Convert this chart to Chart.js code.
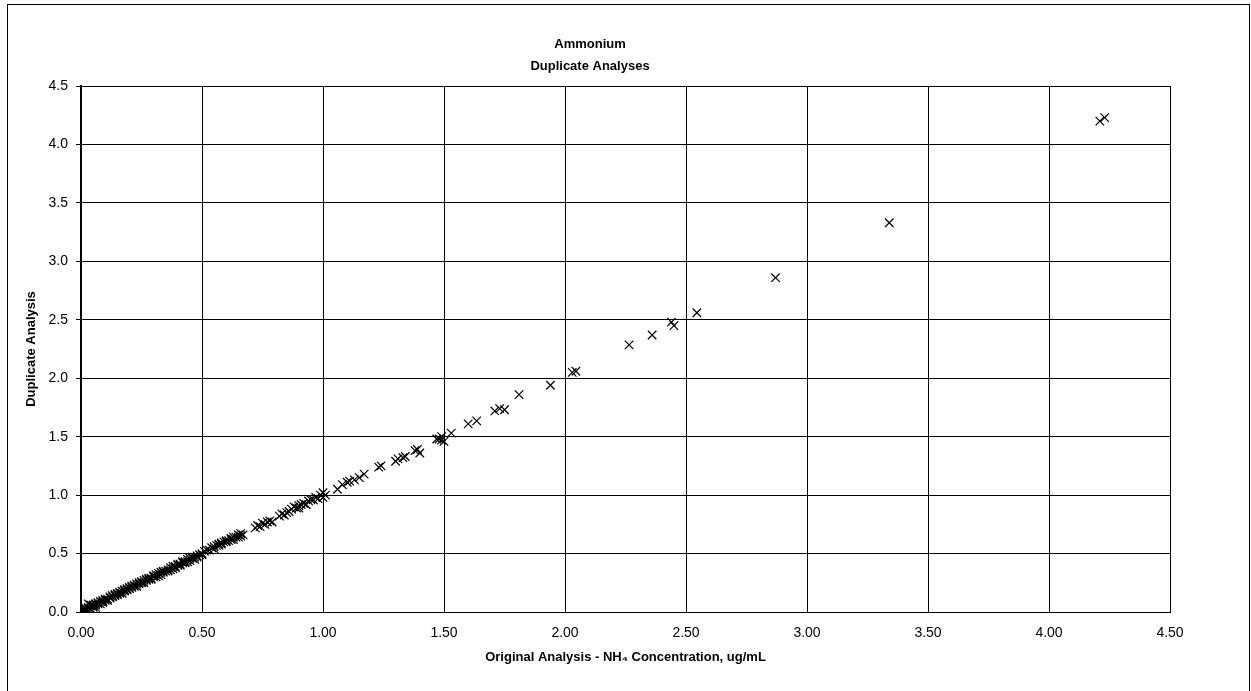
<!DOCTYPE html>
<html>
<head>
<meta charset="utf-8">
<title>Ammonium Duplicate Analyses</title>
<script src="https://cdn.jsdelivr.net/npm/chart.js@4.4.1/dist/chart.umd.min.js"></script>
<style>
  html, body { margin: 0; padding: 0; background: #fff; }
  #wrap { width: 1251px; height: 691px; }
</style>
</head>
<body>
<div id="wrap"><canvas id="dupChart" width="1251" height="691"></canvas></div>
<script>
// Chart text
const titleLines = ['Ammonium', 'Duplicate Analyses'];
const xTitle = 'Original Analysis - NH\u2084 Concentration, ug/mL';
const yTitle = 'Duplicate Analysis';

// Axis ranges (tick labels every 0.5)
const xRange = [0, 4.5];
const yRange = [0, 4.5];
const tickStep = 0.5;

// Original analysis values (ug/mL)
const originalNH4 = [
  0.00, 0.00, 0.01, 0.01, 0.01, 0.02, 0.02, 0.02, 0.03, 0.03, 0.04, 0.04, 0.05, 0.05, 0.05,
  0.06, 0.06, 0.07, 0.07, 0.08, 0.08, 0.09, 0.09, 0.10, 0.10,
  0.11, 0.12, 0.12, 0.13, 0.14, 0.14, 0.15, 0.16, 0.16, 0.17, 0.18, 0.18, 0.19, 0.20, 0.20,
  0.21, 0.22, 0.22, 0.23, 0.24, 0.25, 0.25, 0.26, 0.27, 0.28, 0.28, 0.29, 0.30, 0.31, 0.32,
  0.32, 0.33, 0.34, 0.35, 0.36, 0.37, 0.38, 0.39, 0.40, 0.40, 0.41, 0.42, 0.43, 0.44, 0.45,
  0.45, 0.46, 0.47, 0.48, 0.49, 0.50,
  0.03, 0.06, 0.09, 0.11, 0.13, 0.15, 0.17, 0.19, 0.21, 0.23, 0.24, 0.26, 0.27, 0.29, 0.30,
  0.31, 0.33, 0.34, 0.36, 0.37, 0.38, 0.39, 0.41, 0.42, 0.43, 0.44, 0.46, 0.47, 0.48, 0.50,
  0.52, 0.53, 0.54, 0.55, 0.55, 0.56, 0.57, 0.58, 0.58, 0.59, 0.60, 0.61, 0.62, 0.62, 0.63,
  0.64, 0.65, 0.66, 0.66, 0.67, 0.51, 0.57, 0.60, 0.63, 0.65,
  0.72, 0.73, 0.74, 0.75, 0.76, 0.77, 0.78, 0.79,
  0.82, 0.83, 0.84, 0.85, 0.86,
  0.87, 0.88, 0.89, 0.90, 0.90, 0.91, 0.92, 0.93, 0.94, 0.95, 0.96, 0.97, 0.98, 0.99, 1.00, 1.00,
  1.01, 1.06, 1.10, 1.11, 1.15, 1.17, 1.24, 1.30, 1.31, 1.33, 1.34, 1.39, 1.40, 1.47, 1.48,
  1.49, 1.50, 1.53, 1.23, 1.38, 1.49, 1.08, 1.13,
  1.60, 1.635, 1.71, 1.73, 1.75, 1.81, 1.94, 2.03, 2.045, 2.265, 2.36, 2.44, 2.45, 2.545,
  2.87, 3.34, 4.21, 4.23
];

// Duplicate analysis values (ug/mL), same order
const duplicateNH4 = [
  0.00, 0.01, 0.01, 0.02, 0.00, 0.02, 0.03, 0.01, 0.03, 0.04, 0.06, 0.03, 0.05, 0.04, 0.06,
  0.06, 0.07, 0.07, 0.08, 0.09, 0.07, 0.09, 0.10, 0.10, 0.11,
  0.11, 0.12, 0.13, 0.13, 0.14, 0.15, 0.15, 0.16, 0.17, 0.18, 0.18, 0.19, 0.19, 0.21, 0.20,
  0.22, 0.22, 0.23, 0.24, 0.24, 0.25, 0.26, 0.27, 0.27, 0.28, 0.29, 0.29, 0.30, 0.32, 0.31,
  0.33, 0.34, 0.34, 0.35, 0.35, 0.38, 0.37, 0.39, 0.40, 0.41, 0.41, 0.42, 0.43, 0.45, 0.44,
  0.46, 0.46, 0.47, 0.48, 0.49, 0.49,
  0.07, 0.04, 0.08, 0.10, 0.14, 0.16, 0.16, 0.20, 0.21, 0.22, 0.25, 0.25, 0.28, 0.28, 0.31,
  0.30, 0.32, 0.35, 0.36, 0.36, 0.39, 0.38, 0.40, 0.43, 0.42, 0.43, 0.47, 0.45, 0.47, 0.50,
  0.53, 0.53, 0.55, 0.54, 0.56, 0.57, 0.57, 0.59, 0.58, 0.60, 0.60, 0.61, 0.62, 0.63, 0.62,
  0.64, 0.66, 0.65, 0.67, 0.66, 0.52, 0.58, 0.61, 0.64, 0.64,
  0.72, 0.74, 0.73, 0.76, 0.75, 0.77, 0.78, 0.77,
  0.82, 0.84, 0.83, 0.85, 0.86,
  0.88, 0.90, 0.89, 0.91, 0.89, 0.92, 0.93, 0.92, 0.95, 0.96, 0.96, 0.98, 0.97, 1.00, 1.02, 0.98,
  1.00, 1.05, 1.11, 1.12, 1.15, 1.18, 1.25, 1.29, 1.31, 1.32, 1.33, 1.39, 1.36, 1.48, 1.48,
  1.47, 1.46, 1.53, 1.24, 1.38, 1.50, 1.09, 1.13,
  1.61, 1.635, 1.72, 1.74, 1.73, 1.86, 1.94, 2.05, 2.06, 2.285, 2.37, 2.48, 2.45, 2.56,
  2.86, 3.33, 4.20, 4.23
];

const FONT = 'Arial, "Liberation Sans", sans-serif';

// thin frame around the whole chart object
const framePlugin = {
  id: 'frame',
  afterDraw(chart) {
    const ctx = chart.ctx;
    ctx.save();
    ctx.strokeStyle = '#000';
    ctx.lineWidth = 1;
    ctx.strokeRect(7.5, 4.5, 1242, 720);
    ctx.restore();
  }
};

function initChart() {
  const points = originalNH4.map((x, i) => ({ x: x, y: duplicateNH4[i] }));
  const ctx = document.getElementById('dupChart').getContext('2d');

  new Chart(ctx, {
    type: 'scatter',
    data: {
      datasets: [{
        label: 'Duplicates',
        data: points,
        pointStyle: 'crossRot',
        pointRadius: 6,
        pointBorderWidth: 1.2,
        pointBorderColor: '#000',
        pointBackgroundColor: '#000'
      }]
    },
    options: {
      responsive: false,
      animation: false,
      layout: { padding: { left: 10, right: 81, top: 0, bottom: 0 } },
      plugins: {
        legend: { display: false },
        tooltip: { enabled: false },
        title: {
          display: true,
          text: titleLines,
          color: '#000',
          font: { family: FONT, size: 13, weight: 'bold', lineHeight: '22px' },
          padding: { top: 33, bottom: 9 }
        }
      },
      scales: {
        x: {
          type: 'linear',
          min: xRange[0],
          max: xRange[1],
          afterFit: (scale) => { scale.height = 79; },
          ticks: {
            stepSize: tickStep,
            color: '#000',
            padding: 13,
            font: { family: FONT, size: 14 },
            callback: (v) => Number(v).toFixed(2)
          },
          grid: { color: '#000', lineWidth: 1, drawTicks: false },
          border: { color: '#000', width: 1 },
          title: {
            display: true,
            text: xTitle,
            color: '#000',
            font: { family: FONT, size: 13, weight: 'bold' },
            padding: { top: 0, bottom: 26 }
          }
        },
        y: {
          type: 'linear',
          min: yRange[0],
          max: yRange[1],
          afterFit: (scale) => { scale.width = 71; },
          ticks: {
            stepSize: tickStep,
            color: '#000',
            padding: 8,
            font: { family: FONT, size: 14 },
            callback: (v) => Number(v).toFixed(1)
          },
          grid: { color: '#000', lineWidth: 1, drawTicks: true, tickLength: 5 },
          border: { color: '#000', width: 2 },
          title: {
            display: true,
            text: yTitle,
            color: '#000',
            font: { family: FONT, size: 13, weight: 'bold' },
            padding: { top: 14, bottom: 0 }
          }
        }
      }
    },
    plugins: [framePlugin]
  });
}

document.addEventListener('DOMContentLoaded', initChart);
</script>
</body>
</html>
